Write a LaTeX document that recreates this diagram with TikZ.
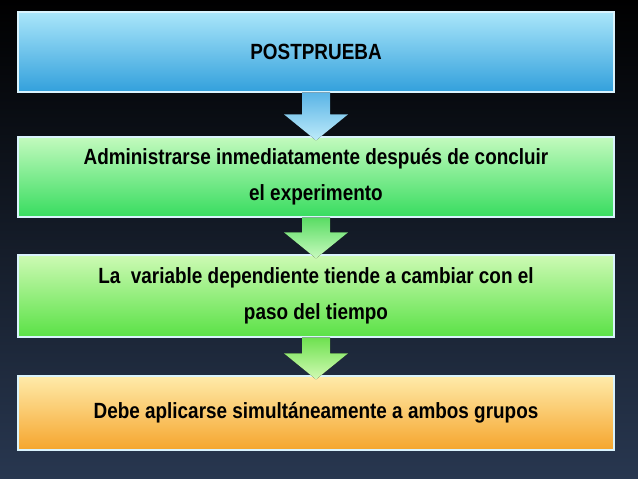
\documentclass[tikz,border=0pt]{standalone}
\usepackage{fontspec}
\setmainfont{Liberation Sans}
\newfontfamily\narrowf[FakeStretch=0.86]{Liberation Sans}
\begin{document}
\begin{tikzpicture}[x=1pt,y=-1pt,
  box/.style={draw=white!85!cyan,line width=1.2pt,minimum width=596pt,align=center,font=\narrowf\bfseries\fontsize{22}{36}\selectfont,inner sep=0pt}]
\useasboundingbox (0,0) rectangle (638,479);
\fill[top color=black,bottom color={rgb,255:red,40;green,55;blue,80}] (0,0) rectangle (638,479);
\node[box,minimum height=80pt,top color={rgb,255:red,170;green,230;blue,250},bottom color={rgb,255:red,50;green,160;blue,220}] (b1) at (316,52) {POSTPRUEBA};
\node[box,minimum height=80pt,top color={rgb,255:red,195;green,250;blue,190},bottom color={rgb,255:red,55;green,220;blue,95}] (b2) at (316,177) {Administrarse inmediatamente después de concluir\\el experimento};
\node[box,minimum height=82pt,top color={rgb,255:red,205;green,250;blue,180},bottom color={rgb,255:red,90;green,225;blue,70}] (b3) at (316,296) {La\ \ variable dependiente tiende a cambiar con el\\paso del tiempo};
\node[box,minimum height=74pt,top color={rgb,255:red,255;green,235;blue,170},bottom color={rgb,255:red,245;green,165;blue,45}] (b4) at (316,413) {Debe aplicarse simultáneamente a ambos grupos};
\foreach \a/\b/\c/\d in {b1/b2/{rgb,255:red,90;green,180;blue,230}/{rgb,255:red,190;green,235;blue,250},b2/b3/{rgb,255:red,90;green,220;blue,100}/{rgb,255:red,200;green,250;blue,190},b3/b4/{rgb,255:red,110;green,225;blue,80}/{rgb,255:red,210;green,250;blue,180}}{
  \path (\a.south) coordinate (s) (\b.north) coordinate (e);
  \fill[top color=\c,bottom color=\d] ([xshift=-14pt]s) -- ([xshift=14pt]s) -- ([xshift=14pt,yshift=22pt]e) -- ([xshift=32pt,yshift=22pt]e) -- ([yshift=-4pt]e) -- ([xshift=-32pt,yshift=22pt]e) -- ([xshift=-14pt,yshift=22pt]e) -- cycle;
}
\end{tikzpicture}
\end{document}
